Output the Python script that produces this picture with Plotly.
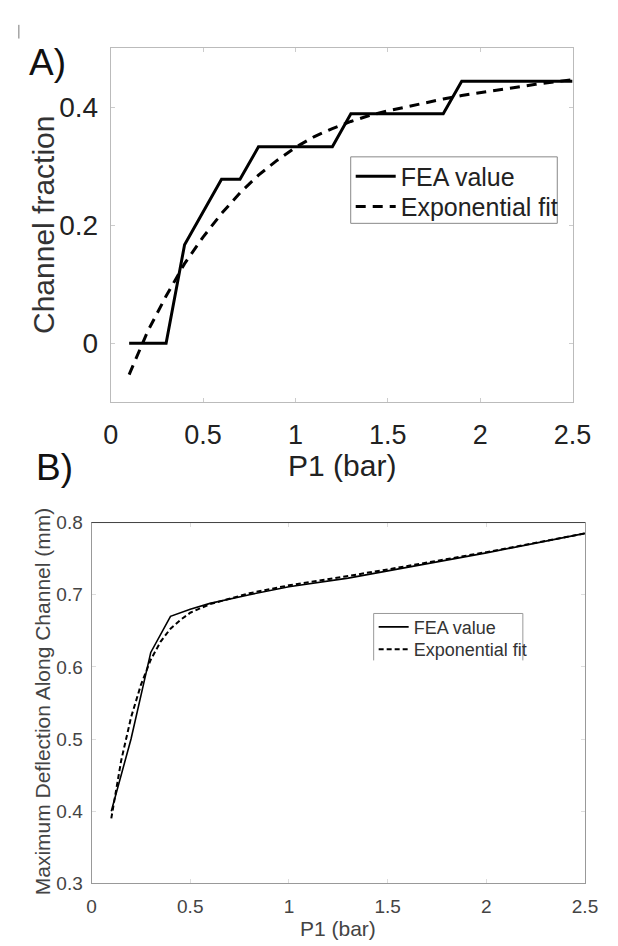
import plotly.graph_objects as go

W, H = 618, 946

# ---------- Data: panel A ----------
a_fea_x = [0.1, 0.2, 0.3, 0.4, 0.5, 0.6, 0.7, 0.8, 0.9, 1.0, 1.1, 1.2, 1.3, 1.4, 1.5, 1.6, 1.7, 1.8, 1.9, 2.0, 2.1, 2.2, 2.3, 2.4, 2.5]
a_fea_y = [0.0, 0.0, 0.0, 0.167, 0.222, 0.278, 0.278, 0.333, 0.333, 0.333, 0.333, 0.333, 0.389, 0.389, 0.389, 0.389, 0.389, 0.389, 0.444, 0.444, 0.444, 0.444, 0.444, 0.444, 0.444]
a_fit_x = [0.1, 0.2, 0.3, 0.4, 0.5, 0.6, 0.7, 0.8, 0.9, 1.0, 1.1, 1.2, 1.3, 1.4, 1.5, 1.6, 1.7, 1.8, 1.9, 2.0, 2.1, 2.2, 2.3, 2.4, 2.5]
a_fit_y = [-0.053, 0.02, 0.08, 0.135, 0.18, 0.22, 0.255, 0.285, 0.31, 0.332, 0.35, 0.364, 0.376, 0.386, 0.394, 0.401, 0.408, 0.414, 0.42, 0.425, 0.43, 0.435, 0.439, 0.443, 0.447]

# ---------- Data: panel B ----------
b_fea_x = [0.1, 0.2, 0.3, 0.4, 0.5, 0.6, 0.8, 1.0, 1.3, 1.5, 2.0, 2.5]
b_fea_y = [0.40, 0.50, 0.62, 0.67, 0.68, 0.688, 0.70, 0.711, 0.723, 0.733, 0.758, 0.785]
b_fit_x = [0.1, 0.15, 0.2, 0.25, 0.3, 0.35, 0.4, 0.45, 0.5, 0.6, 0.8, 1.0, 1.3, 1.5, 2.0, 2.5]
b_fit_y = [0.39, 0.47, 0.53, 0.575, 0.61, 0.635, 0.653, 0.665, 0.675, 0.687, 0.702, 0.713, 0.726, 0.735, 0.759, 0.785]

x_ticks = [0, 0.5, 1, 1.5, 2, 2.5]
x_tick_text = ["0", "0.5", "1", "1.5", "2", "2.5"]
a_y_ticks = [0, 0.2, 0.4]
a_y_tick_text = ["0", "0.2", "0.4"]
b_y_ticks = [0.3, 0.4, 0.5, 0.6, 0.7, 0.8]
b_y_tick_text = ["0.3", "0.4", "0.5", "0.6", "0.7", "0.8"]

FONT = "Liberation Sans, Arial, sans-serif"

def px_x(p):
    return p / W

def px_y(p):
    return 1 - p / H

# plot areas in pixels
A_L, A_R, A_T, A_B = 99, 582, 31, 393
B_L, B_R, B_T, B_B = 79, 595, 516, 885
# legend boxes in pixels
LA_L, LA_R, LA_T, LA_B = 350, 566, 142, 210
LB_L, LB_R, LB_T, LB_B = 374, 530, 609, 657

fig = go.Figure()

fig.add_trace(go.Scatter(x=a_fea_x, y=a_fea_y, mode="lines", name="FEA value",
                         line=dict(color="black", width=3), xaxis="x", yaxis="y", legend="legend"))
fig.add_trace(go.Scatter(x=a_fit_x, y=a_fit_y, mode="lines", name="Exponential fit",
                         line=dict(color="black", width=3, dash="10px,7px"), xaxis="x", yaxis="y", legend="legend3"))
fig.add_trace(go.Scatter(x=b_fea_x, y=b_fea_y, mode="lines", name="FEA value",
                         line=dict(color="black", width=1.6), xaxis="x2", yaxis="y2", legend="legend2"))
fig.add_trace(go.Scatter(x=b_fit_x, y=b_fit_y, mode="lines", name="Exponential fit",
                         line=dict(color="black", width=2, dash="5px,3px"), xaxis="x2", yaxis="y2", legend="legend4"))

def leg(xpx, ypx, size, color, iw):
    return dict(x=px_x(xpx), y=px_y(ypx), xanchor="left", yanchor="middle",
                bgcolor="rgba(0,0,0,0)", borderwidth=0, itemwidth=iw,
                font=dict(size=size, color=color, family=FONT), tracegroupgap=0)

fig.update_layout(
    width=W, height=H,
    margin=dict(l=0, r=0, t=0, b=0),
    paper_bgcolor="white", plot_bgcolor="white",
    font=dict(family=FONT, color="#222"),
    xaxis=dict(domain=[px_x(A_L), px_x(A_R)], anchor="y", range=[0, 2.5],
               tickvals=x_ticks, ticktext=x_tick_text, ticks="inside", ticklen=4, tickcolor="#ccc",
               showline=True, linecolor="#bbb", linewidth=1, mirror="ticks", showgrid=False, zeroline=False,
               tickfont=dict(size=27, color="#222"), ticklabelstandoff=8),
    yaxis=dict(domain=[px_y(A_B), px_y(A_T)], anchor="x", range=[-0.1, 0.5],
               tickvals=a_y_ticks, ticktext=a_y_tick_text, ticks="inside", ticklen=4, tickcolor="#ccc",
               showline=True, linecolor="#bbb", linewidth=1, mirror="ticks", showgrid=False, zeroline=False,
               tickfont=dict(size=28, color="#222"), ticklabelstandoff=6),
    xaxis2=dict(domain=[px_x(B_L), px_x(B_R)], anchor="y2", range=[0, 2.5],
                tickvals=x_ticks, ticktext=x_tick_text, ticks="inside", ticklen=4, tickcolor="#ddd",
                showline=True, linecolor="#999", linewidth=1, mirror="ticks", showgrid=False, zeroline=False,
                tickfont=dict(size=19, color="#444"), ticklabelstandoff=6),
    yaxis2=dict(domain=[px_y(B_B), px_y(B_T)], anchor="x2", range=[0.3, 0.8],
                tickvals=b_y_ticks, ticktext=b_y_tick_text, ticks="inside", ticklen=4, tickcolor="#ddd",
                showline=True, linecolor="#999", linewidth=1, mirror="ticks", showgrid=False, zeroline=False,
                tickfont=dict(size=19, color="#444"), ticklabelstandoff=4),
    legend=leg(LA_L, 162, 25, "#222", 40),
    legend3=leg(LA_L, 193, 25, "#222", 40),
    legend2=leg(LB_L, 623, 18, "#333", 30),
    legend4=leg(LB_L, 646, 18, "#333", 30),
    showlegend=True,
)

annotations = [
    dict(text="A)", x=px_x(33), y=px_y(45), font=dict(size=37, color="#111")),
    dict(text="B)", x=px_x(40), y=px_y(460), font=dict(size=37, color="#111")),
    dict(text="P1 (bar)", x=px_x(341), y=px_y(458), font=dict(size=30, color="#222")),
    dict(text="Channel fraction", x=px_x(29), y=px_y(212), textangle=-90, font=dict(size=30, color="#333")),
    dict(text="P1 (bar)", x=px_x(337), y=px_y(931), font=dict(size=21, color="#444")),
    dict(text="Maximum Deflection Along Channel (mm)", x=px_x(28), y=px_y(699), textangle=-90,
         font=dict(size=21, color="#444")),
]
for a in annotations:
    a.update(xref="paper", yref="paper", showarrow=False, xanchor="center", yanchor="middle")
fig.update_layout(annotations=annotations)

shapes = [
    # legend A box
    dict(type="rect", xref="paper", yref="paper", x0=px_x(LA_L), x1=px_x(LA_R), y0=px_y(LA_B), y1=px_y(LA_T),
         line=dict(color="#888", width=1), fillcolor="white", layer="above"),
    # darker top border of panel B
    dict(type="line", xref="paper", yref="paper", x0=px_x(B_L), x1=px_x(B_R), y0=px_y(B_T), y1=px_y(B_T),
         line=dict(color="#444", width=1)),
    # legend B border (top, left, right)
    dict(type="rect", xref="paper", yref="paper", x0=px_x(LB_L), x1=px_x(LB_R), y0=px_y(LB_B), y1=px_y(LB_T),
         line=dict(width=0), fillcolor="white", layer="above"),
    dict(type="line", xref="paper", yref="paper", x0=px_x(LB_L), x1=px_x(LB_R), y0=px_y(LB_T), y1=px_y(LB_T),
         line=dict(color="#999", width=1)),
    dict(type="line", xref="paper", yref="paper", x0=px_x(LB_L), x1=px_x(LB_L), y0=px_y(LB_T), y1=px_y(LB_B),
         line=dict(color="#999", width=1)),
    dict(type="line", xref="paper", yref="paper", x0=px_x(LB_R), x1=px_x(LB_R), y0=px_y(LB_T), y1=px_y(LB_B),
         line=dict(color="#999", width=1)),
    # small stray mark at top-left corner
    dict(type="line", xref="paper", yref="paper", x0=px_x(3), x1=px_x(3), y0=px_y(7), y1=px_y(21),
         line=dict(color="#777", width=1)),
]
fig.update_layout(shapes=shapes)

fig.write_html("out.html")
